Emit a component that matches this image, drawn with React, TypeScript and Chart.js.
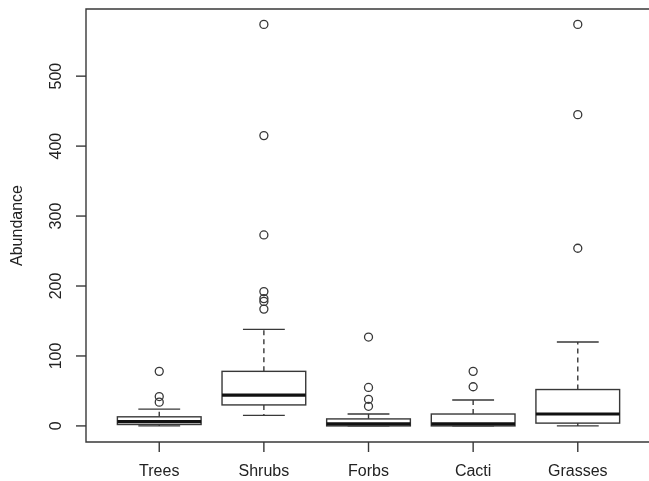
import React, { useEffect, useRef } from 'react';
import { Chart, registerables } from 'chart.js';

Chart.register(...registerables);

// ---- Data ----
const categories = ['Trees', 'Shrubs', 'Forbs', 'Cacti', 'Grasses'];
const lowerWhisker = [0, 15, 0, 0, 0];
const q1 = [2, 30, 0, 0, 4];
const median = [6, 44, 3, 3, 17];
const q3 = [13, 78, 10, 17, 52];
const upperWhisker = [24, 138, 17, 37, 120];
const outliersTrees = [78, 42, 34];
const outliersShrubs = [574, 415, 273, 192, 182, 178, 167];
const outliersForbs = [127, 55, 38, 28];
const outliersCacti = [78, 56];
const outliersGrasses = [574, 445, 254];
const yTicks = [0, 100, 200, 300, 400, 500];
const yTitle = 'Abundance';

const allOutliers = [outliersTrees, outliersShrubs, outliersForbs, outliersCacti, outliersGrasses];

const FONT = '"Liberation Sans", Arial, sans-serif';
const LINE = '#383838';
const TEXT = '#222';

export default function App() {
  const ref = useRef<HTMLCanvasElement>(null);

  useEffect(() => {
    const canvas = ref.current;
    if (!canvas) return;

    const points: { x: number; y: number }[] = [];
    allOutliers.forEach((arr, i) => arr.forEach((v) => points.push({ x: i + 1, y: v })));

    const boxPlugin = {
      id: 'rBoxplot',
      beforeDatasetsDraw(chart: any) {
        const { ctx, chartArea: a, scales } = chart;
        const xs = scales.x;
        const ys = scales.y;
        ctx.save();

        // frame (right side falls outside the canvas)
        ctx.strokeStyle = LINE;
        ctx.lineWidth = 1.4;
        ctx.beginPath();
        ctx.moveTo(a.right + 10, a.top);
        ctx.lineTo(a.left, a.top);
        ctx.lineTo(a.left, a.bottom);
        ctx.lineTo(a.right + 10, a.bottom);
        ctx.stroke();

        // y axis ticks + labels
        ctx.fillStyle = TEXT;
        ctx.font = `16px ${FONT}`;
        yTicks.forEach((t) => {
          const py = ys.getPixelForValue(t);
          ctx.beginPath();
          ctx.moveTo(a.left - 10, py);
          ctx.lineTo(a.left, py);
          ctx.stroke();
          ctx.save();
          ctx.translate(a.left - 29, py);
          ctx.rotate(-Math.PI / 2);
          ctx.textAlign = 'center';
          ctx.textBaseline = 'middle';
          ctx.fillText(String(t), 0, 0);
          ctx.restore();
        });

        // y title
        ctx.save();
        ctx.translate(18, (a.top + a.bottom) / 2);
        ctx.rotate(-Math.PI / 2);
        ctx.textAlign = 'center';
        ctx.textBaseline = 'middle';
        ctx.font = `16px ${FONT}`;
        ctx.fillText(yTitle, 0, 0);
        ctx.restore();

        // x ticks + labels
        categories.forEach((c, i) => {
          const px = xs.getPixelForValue(i + 1);
          ctx.beginPath();
          ctx.moveTo(px, a.bottom);
          ctx.lineTo(px, a.bottom + 10);
          ctx.stroke();
          ctx.textAlign = 'center';
          ctx.textBaseline = 'middle';
          ctx.fillText(c, px, a.bottom + 30);
        });

        // boxes
        categories.forEach((_, i) => {
          const cx = i + 1;
          const bl = xs.getPixelForValue(cx - 0.4);
          const br = xs.getPixelForValue(cx + 0.4);
          const sl = xs.getPixelForValue(cx - 0.2);
          const sr = xs.getPixelForValue(cx + 0.2);
          const pc = xs.getPixelForValue(cx);
          const yq1 = ys.getPixelForValue(q1[i]);
          const yq3 = ys.getPixelForValue(q3[i]);
          const ymed = ys.getPixelForValue(median[i]);
          const ylo = ys.getPixelForValue(lowerWhisker[i]);
          const yhi = ys.getPixelForValue(upperWhisker[i]);

          ctx.strokeStyle = LINE;
          ctx.lineWidth = 1.4;
          // whiskers (dashed)
          ctx.setLineDash([5, 4]);
          ctx.beginPath();
          ctx.moveTo(pc, yq3);
          ctx.lineTo(pc, yhi);
          ctx.moveTo(pc, yq1);
          ctx.lineTo(pc, ylo);
          ctx.stroke();
          ctx.setLineDash([]);
          // staples
          ctx.beginPath();
          ctx.moveTo(sl, yhi);
          ctx.lineTo(sr, yhi);
          ctx.moveTo(sl, ylo);
          ctx.lineTo(sr, ylo);
          ctx.stroke();
          // box
          ctx.fillStyle = '#ffffff';
          ctx.fillRect(bl, yq3, br - bl, yq1 - yq3);
          ctx.strokeRect(bl, yq3, br - bl, yq1 - yq3);
          // median
          ctx.strokeStyle = '#111';
          ctx.lineWidth = 3.2;
          ctx.beginPath();
          ctx.moveTo(bl, ymed);
          ctx.lineTo(br, ymed);
          ctx.stroke();
        });

        ctx.restore();
      },
    };

    const chart = new Chart(canvas, {
      type: 'scatter',
      data: {
        datasets: [
          {
            data: points,
            pointStyle: 'circle',
            pointRadius: 4,
            pointBorderWidth: 1.3,
            borderColor: LINE,
            backgroundColor: 'rgba(0,0,0,0)',
          },
        ],
      },
      options: {
        responsive: false,
        animation: false,
        devicePixelRatio: 1,
        layout: { padding: { left: 86, top: 9, right: 0, bottom: 39 } },
        scales: {
          x: { type: 'linear', min: 0.3, max: 5.63, display: false },
          y: { type: 'linear', min: -23, max: 596, display: false },
        },
        plugins: {
          legend: { display: false },
          tooltip: { enabled: false },
        },
      },
      plugins: [boxPlugin],
    });

    return () => chart.destroy();
  }, []);

  return (
    <div style={{ position: 'fixed', left: 0, top: 0, width: 649, height: 481, background: '#fff' }}>
      <canvas ref={ref} width={649} height={481} style={{ display: 'block', width: 649, height: 481 }} />
    </div>
  );
}
